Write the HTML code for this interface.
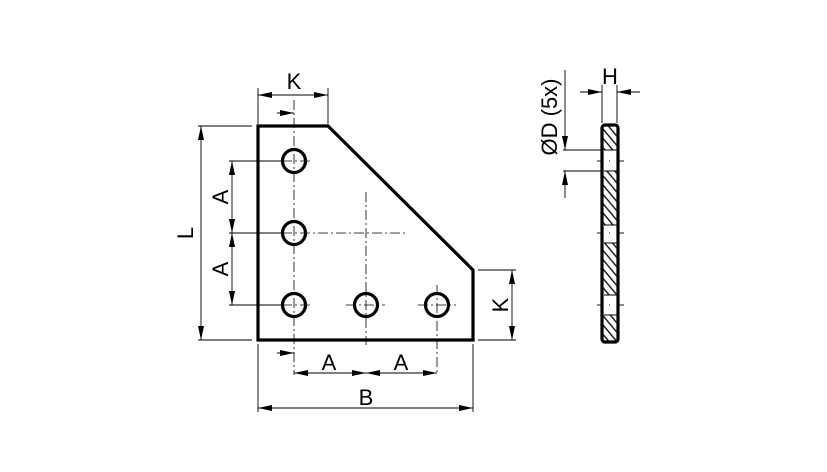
<!DOCTYPE html>
<html><head><style>html,body{margin:0;padding:0;background:#fff}svg{display:block}</style></head><body>
<svg width="827" height="472" viewBox="0 0 827 472" xmlns="http://www.w3.org/2000/svg" font-family="Liberation Sans, sans-serif">
<defs>
<marker id="a" viewBox="0 0 14 6" refX="14" refY="3" markerWidth="14" markerHeight="6" markerUnits="userSpaceOnUse" orient="auto-start-reverse"><path d="M0,0L14,3L0,6z" fill="#000"/></marker>
<pattern id="h" width="6" height="6" patternUnits="userSpaceOnUse" patternTransform="rotate(-40)"><line x1="1" y1="0" x2="1" y2="6" stroke="#000" stroke-width="1.3"/></pattern>
</defs>
<g stroke="#000" fill="none">
<g stroke-width="0.8" stroke-dasharray="10,3,2,3">
<line x1="294" y1="100" x2="294" y2="375"/>
<line x1="366" y1="192" x2="366" y2="345"/>
<line x1="437" y1="285" x2="437" y2="375"/>
<line x1="282" y1="233" x2="405" y2="233"/>
<line x1="282" y1="161" x2="313" y2="161"/>
<line x1="282" y1="305" x2="313" y2="305"/>
<line x1="346" y1="305" x2="385" y2="305"/>
<line x1="418" y1="305" x2="456" y2="305"/>
</g>
<path d="M258,126H328L473,270V340H258Z" stroke-width="3.2"/>
<circle cx="294" cy="161" r="11.5" stroke-width="3.2"/>
<circle cx="294" cy="233" r="11.5" stroke-width="3.2"/>
<circle cx="294" cy="305" r="11.5" stroke-width="3.2"/>
<circle cx="366" cy="305" r="11.5" stroke-width="3.2"/>
<circle cx="437" cy="305" r="11.5" stroke-width="3.2"/>
<g stroke-width="0.9">
<line x1="258" y1="88" x2="258" y2="124"/><line x1="328" y1="88" x2="328" y2="124"/>
<line x1="258" y1="95" x2="328" y2="95" marker-start="url(#a)" marker-end="url(#a)"/>
<line x1="277" y1="113" x2="294" y2="113" marker-end="url(#a)"/>
<line x1="198" y1="126" x2="252" y2="126"/><line x1="198" y1="340" x2="252" y2="340"/>
<line x1="201" y1="126" x2="201" y2="340" marker-start="url(#a)" marker-end="url(#a)"/>
<line x1="229" y1="161" x2="282" y2="161"/><line x1="229" y1="233" x2="282" y2="233"/><line x1="229" y1="305" x2="282" y2="305"/>
<line x1="232" y1="161" x2="232" y2="233" marker-start="url(#a)" marker-end="url(#a)"/>
<line x1="232" y1="233" x2="232" y2="305" marker-start="url(#a)" marker-end="url(#a)"/>
<line x1="478" y1="270" x2="516" y2="270"/><line x1="478" y1="340" x2="516" y2="340"/>
<line x1="512" y1="270" x2="512" y2="340" marker-start="url(#a)" marker-end="url(#a)"/>
<line x1="277" y1="353" x2="294" y2="353" marker-end="url(#a)"/>
<line x1="294" y1="373" x2="366" y2="373" marker-start="url(#a)" marker-end="url(#a)"/>
<line x1="366" y1="373" x2="437" y2="373" marker-start="url(#a)" marker-end="url(#a)"/>
<line x1="258" y1="344" x2="258" y2="412"/><line x1="473" y1="344" x2="473" y2="412"/>
<line x1="258" y1="408" x2="473" y2="408" marker-start="url(#a)" marker-end="url(#a)"/>
</g>
<rect x="602" y="125" width="16" height="217" rx="3" fill="url(#h)" stroke="none"/>
<rect x="603" y="150" width="14" height="21" fill="#fff" stroke="none"/>
<rect x="603" y="225" width="14" height="18" fill="#fff" stroke="none"/>
<rect x="603" y="295" width="14" height="20" fill="#fff" stroke="none"/>
<rect x="602" y="125" width="16" height="217" rx="3" stroke-width="3.2"/>
<g stroke-width="1"><line x1="604" y1="150" x2="617" y2="150"/><line x1="604" y1="171" x2="617" y2="171"/>
<line x1="604" y1="225" x2="617" y2="225"/><line x1="604" y1="243" x2="617" y2="243"/>
<line x1="604" y1="295" x2="617" y2="295"/><line x1="604" y1="315" x2="617" y2="315"/></g>
<g stroke-width="0.9">
<line x1="597" y1="161" x2="602" y2="161"/><line x1="618" y1="161" x2="624" y2="161"/><line x1="609" y1="161" x2="610" y2="161"/>
<line x1="597" y1="233" x2="602" y2="233"/><line x1="618" y1="233" x2="624" y2="233"/><line x1="609" y1="233" x2="610" y2="233"/>
<line x1="597" y1="305" x2="602" y2="305"/><line x1="618" y1="305" x2="624" y2="305"/><line x1="609" y1="305" x2="610" y2="305"/>
</g>
<g stroke-width="0.9">
<line x1="602" y1="85" x2="602" y2="123"/><line x1="617" y1="85" x2="617" y2="123"/>
<line x1="580" y1="92" x2="602" y2="92" marker-end="url(#a)"/>
<line x1="640" y1="92" x2="617" y2="92" marker-end="url(#a)"/>
<line x1="563" y1="150" x2="602" y2="150"/><line x1="563" y1="171" x2="602" y2="171"/>
<line x1="565" y1="70" x2="565" y2="150" marker-end="url(#a)"/>
<line x1="565" y1="198" x2="565" y2="171" marker-end="url(#a)"/>
</g>
</g>
<g font-size="22" fill="#000" text-anchor="middle">
<text x="294" y="89">K</text>
<text x="610" y="84">H</text>
<text x="329" y="370">A</text>
<text x="401" y="370">A</text>
<text x="366" y="405">B</text>
<text transform="translate(193,233) rotate(-90)">L</text>
<text transform="translate(228,197) rotate(-90)">A</text>
<text transform="translate(228,269) rotate(-90)">A</text>
<text transform="translate(508,305) rotate(-90)">K</text>
<text transform="translate(557,117) rotate(-90)">ØD (5x)</text>
</g>
</svg>
</body></html>
